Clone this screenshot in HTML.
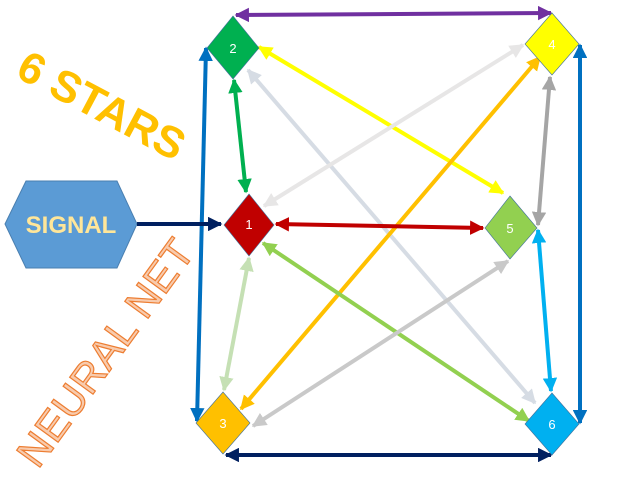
<!DOCTYPE html>
<html><head><meta charset="utf-8"><style>
html,body{margin:0;padding:0;background:#fff;width:640px;height:480px;overflow:hidden}
</style></head><body>
<svg width="640" height="480" viewBox="0 0 640 480" xmlns="http://www.w3.org/2000/svg" font-family="Liberation Sans, sans-serif">
<defs>
<marker id="a" viewBox="0 0 10 10" refX="9" refY="5" markerWidth="3.6" markerHeight="3.6" orient="auto-start-reverse" markerUnits="strokeWidth"><path d="M0,0 L10,5 L0,10 z" fill="context-stroke"/></marker>
</defs>
<text x="14" y="76" font-size="44" font-weight="bold" fill="#ffc000" transform="rotate(28 14 76)" letter-spacing="0">6 STARS</text>
<text x="38" y="470" font-size="42" fill="#f8cbad" stroke="#ed7d31" stroke-width="1.2" transform="rotate(-54 38 470)" letter-spacing="0.5">NEURAL NET</text>
<polygon points="5,224 26,181 117,181 137,224 117,268 26,268" fill="#5b9bd5" stroke="#4a7fb0" stroke-width="1"/>
<text x="71" y="233" font-size="24" font-weight="bold" fill="#ffe699" text-anchor="middle">SIGNAL</text>
<g stroke-width="4" fill="none" marker-start="url(#a)" marker-end="url(#a)">
<line x1="236" y1="15" x2="551" y2="13" stroke="#7030a0"/>
<line x1="259" y1="47" x2="503" y2="193" stroke="#ffff00"/>
<line x1="248" y1="70" x2="535" y2="403" stroke="#d6dce4"/>
<line x1="234" y1="80" x2="246" y2="192" stroke="#00b050"/>
<line x1="523" y1="45" x2="264" y2="206" stroke="#e7e6e6"/>
<line x1="540" y1="57" x2="241" y2="409" stroke="#ffc000"/>
<line x1="550" y1="77" x2="538" y2="225" stroke="#a5a5a5"/>
<line x1="276" y1="224" x2="483" y2="228" stroke="#c00000"/>
<line x1="249" y1="258" x2="224" y2="390" stroke="#c5e0b4"/>
<line x1="263" y1="243" x2="529" y2="421" stroke="#92d050"/>
<line x1="508" y1="261" x2="253" y2="426" stroke="#c9c9c9"/>
<line x1="538" y1="230" x2="551" y2="391" stroke="#00b0f0"/>
<line x1="206" y1="48" x2="197" y2="421" stroke="#0070c0"/>
<line x1="580" y1="45" x2="580" y2="423" stroke="#0070c0"/>
<line x1="226" y1="455" x2="551" y2="455" stroke="#002060"/>
<line x1="137" y1="224" x2="221" y2="224" stroke="#002060" marker-start="none"/>
</g>
<g stroke="#41719c" stroke-width="0.6">
<polygon points="233,16 259,48 233,79 207,48" fill="#00b050"/>
<polygon points="552,13 579,44 552,75 525,44" fill="#ffff00"/>
<polygon points="249,194 274,225 249,256 224,225" fill="#c00000"/>
<polygon points="510,196 537,228 510,259 485,228" fill="#92d050"/>
<polygon points="223,392 250,423 223,454 196,423" fill="#ffc000"/>
<polygon points="552,393 579,424 552,455 525,424" fill="#00b0f0"/>
</g>
<g fill="#fff" font-size="13" text-anchor="middle">
<text x="233" y="53">2</text><text x="552" y="49">4</text><text x="249" y="229">1</text>
<text x="510" y="233">5</text><text x="223" y="428">3</text><text x="552" y="429">6</text>
</g>
</svg>
</body></html>
